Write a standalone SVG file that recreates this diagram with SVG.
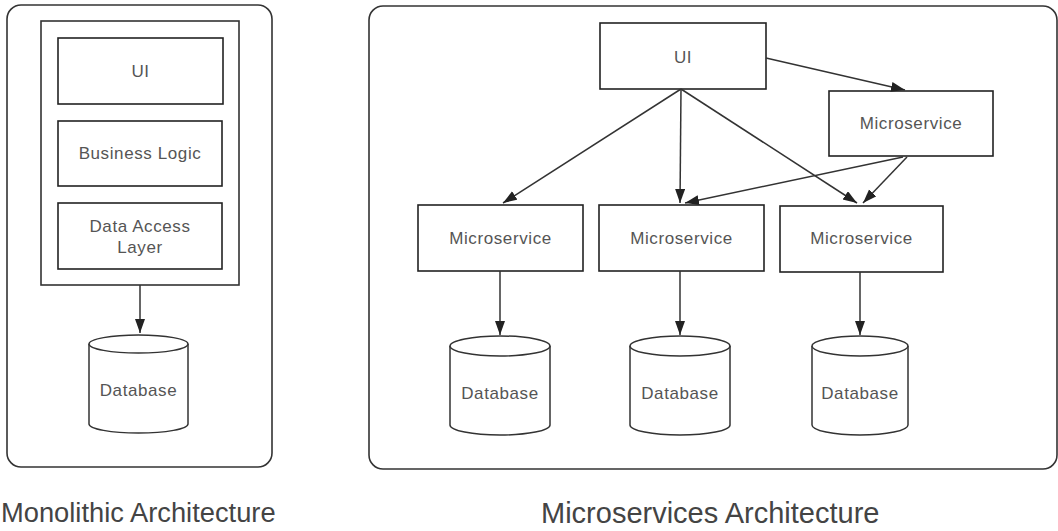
<svg xmlns="http://www.w3.org/2000/svg" width="1058" height="531" viewBox="0 0 1058 531">
<style>
.panel{fill:none;stroke:#333;stroke-width:1.6}
.box{fill:#fff;stroke:#222;stroke-width:1.6}
.cyl{fill:#fff;stroke:#333;stroke-width:1.5}
.lbl{font-family:"Liberation Sans",Arial,sans-serif;font-size:17px;fill:#555;text-anchor:middle;letter-spacing:0.6px}
.title{font-family:"Liberation Sans",Arial,sans-serif;fill:#444}
.conn{stroke:#333;stroke-width:1.5;fill:none;marker-end:url(#arr)}
</style>
<defs>
<marker id="arr" markerUnits="userSpaceOnUse" markerWidth="16" markerHeight="12" refX="14" refY="5" orient="auto">
<path d="M0,0 L14,5 L0,10 z" fill="#222"/>
</marker>
</defs>
<rect width="1058" height="531" fill="#fff"/>

<g id="mono-panel">
<rect class="panel" x="7" y="5" width="265" height="462" rx="14"/>
<rect class="panel" x="41" y="21" width="198" height="264"/>
</g>
<g id="mono-ui">
<rect class="box" x="58" y="38" width="165" height="66"/>
<text class="lbl" x="140.5" y="77">UI</text>
</g>
<g id="mono-bl">
<rect class="box" x="58" y="121" width="164" height="65"/>
<text class="lbl" x="140" y="159">Business Logic</text>
</g>
<g id="mono-dal">
<rect class="box" x="58" y="203" width="164" height="66"/>
<text class="lbl" x="140" y="232">Data Access</text>
<text class="lbl" x="140" y="253">Layer</text>
</g>
<g id="mono-db">
<path class="cyl" d="M89,344 A49.5,9 0 0 1 188,344 V424 A49.5,9 0 0 1 89,424 Z"/>
<path class="cyl" d="M89,344 A49.5,9 0 0 0 188,344"/>
<text class="lbl" x="138.5" y="396">Database</text>
</g>

<g id="micro-panel">
<rect class="panel" x="369" y="6" width="688" height="463" rx="14"/>
</g>
<g id="ms-ui">
<rect class="box" x="600" y="23" width="166" height="66"/>
<text class="lbl" x="683" y="63">UI</text>
</g>
<g id="ms-top">
<rect class="box" x="829" y="91" width="164" height="65"/>
<text class="lbl" x="911" y="129">Microservice</text>
</g>
<g id="ms-left">
<rect class="box" x="418" y="205" width="165" height="66"/>
<text class="lbl" x="500.5" y="244">Microservice</text>
</g>
<g id="ms-mid">
<rect class="box" x="599" y="205" width="165" height="66"/>
<text class="lbl" x="681.5" y="244">Microservice</text>
</g>
<g id="ms-right">
<rect class="box" x="780" y="206" width="163" height="66"/>
<text class="lbl" x="861.5" y="244">Microservice</text>
</g>
<g id="db-left">
<path class="cyl" d="M450,346 A50,10 0 0 1 550,346 V425 A50,10 0 0 1 450,425 Z"/>
<path class="cyl" d="M450,346 A50,10 0 0 0 550,346"/>
<text class="lbl" x="500" y="399">Database</text>
</g>
<g id="db-mid">
<path class="cyl" d="M630,346 A50,10 0 0 1 730,346 V425 A50,10 0 0 1 630,425 Z"/>
<path class="cyl" d="M630,346 A50,10 0 0 0 730,346"/>
<text class="lbl" x="680" y="399">Database</text>
</g>
<g id="db-right">
<path class="cyl" d="M812,346 A48,10 0 0 1 908,346 V425 A48,10 0 0 1 812,425 Z"/>
<path class="cyl" d="M812,346 A48,10 0 0 0 908,346"/>
<text class="lbl" x="860" y="399">Database</text>
</g>

<g id="connectors">
<line class="conn" x1="140" y1="285" x2="140" y2="333"/>
<line class="conn" x1="681" y1="89" x2="503" y2="203"/>
<line class="conn" x1="681" y1="89" x2="680" y2="203"/>
<line class="conn" x1="681" y1="89" x2="857" y2="203"/>
<line class="conn" x1="766" y1="58" x2="905" y2="90"/>
<line class="conn" x1="903" y1="157" x2="685" y2="203"/>
<line class="conn" x1="907" y1="157" x2="863" y2="203"/>
<line class="conn" x1="500" y1="271" x2="500" y2="335"/>
<line class="conn" x1="680" y1="271" x2="680" y2="335"/>
<line class="conn" x1="860" y1="272" x2="860" y2="335"/>
</g>

<text class="title" x="1" y="522" font-size="27.3">Monolithic Architecture</text>
<text class="title" x="541" y="523" font-size="29">Microservices Architecture</text>
</svg>
